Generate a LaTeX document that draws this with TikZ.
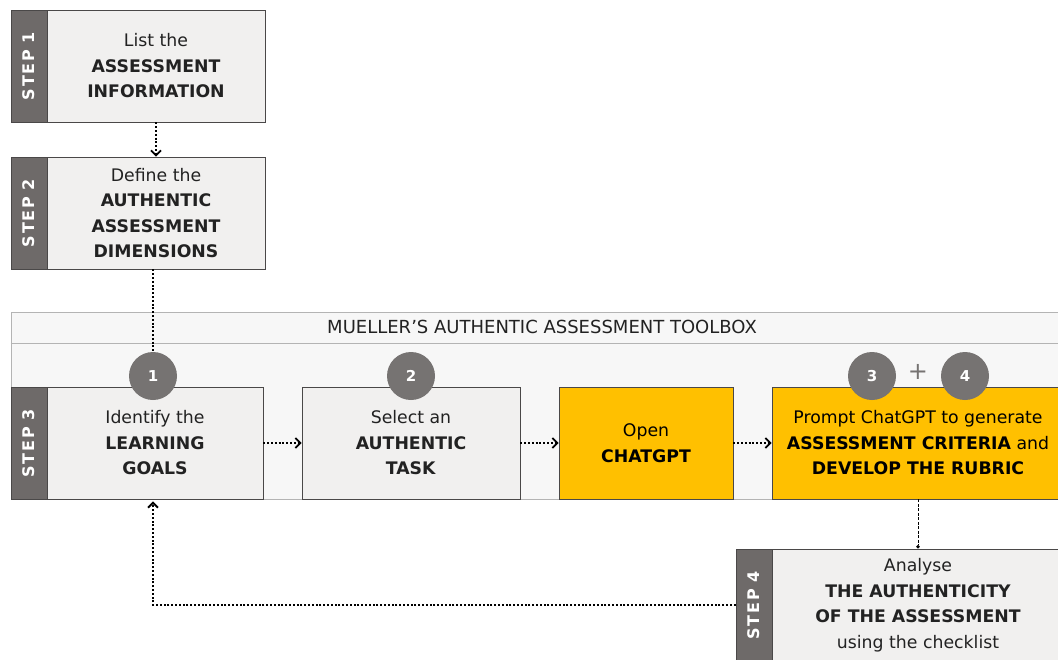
\documentclass[tikz,border=0pt]{standalone}
\usepackage{fontspec}
\setmainfont{DejaVu Sans}
\usetikzlibrary{arrows.meta,positioning}
\definecolor{stripgray}{HTML}{6E6A69}
\definecolor{boxfill}{HTML}{F1F0EF}
\definecolor{boxline}{HTML}{4A4848}
\definecolor{bandfill}{HTML}{F7F7F7}
\definecolor{bandline}{HTML}{B4B4B4}
\definecolor{gptyellow}{HTML}{FFC000}
\definecolor{numgray}{HTML}{767372}
\definecolor{inkgray}{HTML}{222222}

\tikzset{
  stepbox/.style={draw=boxline, fill=boxfill, line width=0.9pt, minimum width=218, minimum height=112,
    inner sep=0pt, align=center, text=inkgray, font=\fontsize{17.3}{25.5}\selectfont},
  gptbox/.style={fill=gptyellow, text=black},
  strip/.style={draw=boxline, fill=stripgray, line width=0.9pt, rotate=90, minimum width=112, minimum height=36,
    inner sep=0pt, text=white, font=\bfseries\fontsize{16}{16}\selectfont\addfontfeature{LetterSpace=10}},
  band/.style={draw=bandline, fill=bandfill, line width=0.9pt, minimum width=1059, minimum height=187, inner sep=0pt},
  num/.style={circle, fill=numgray, minimum size=48, inner sep=0pt, text=white, font=\bfseries\fontsize{15}{15}\selectfont},
  flow/.style={line width=1.7pt, dash pattern=on 2pt off 1.8pt, -{Straight Barb[length=5pt,width=10pt,line width=1.8pt]}},
  link/.style={line width=1.7pt, dash pattern=on 2pt off 1.8pt},
  drop/.style={line width=0.8pt, dash pattern=on 3pt off 1.5pt, -{Circle[length=3.5pt]}}
}

\begin{document}
\begin{tikzpicture}[x=1pt,y=-1pt]
\useasboundingbox (0,0) rectangle (1058,659);

\node[band] (tb) at (540.5,405.5) {};
\coordinate (hd) at (0,343);
\draw[bandline, line width=0.9pt] (tb.west |- hd) -- (tb.east |- hd);
\node[text=inkgray, font=\fontsize{18}{18}\selectfont] (title) at (542,327) {MUELLER'S AUTHENTIC ASSESSMENT TOOLBOX};

\node[stepbox] (s1) at (156,66) {List the\\\textbf{ASSESSMENT}\\\textbf{INFORMATION}};
\node[strip] (t1) at (29,66) {STEP 1};
\node[stepbox] (s2) at (156,213) {Define the\\\textbf{AUTHENTIC}\\\textbf{ASSESSMENT}\\\textbf{DIMENSIONS}};
\node[strip] (t2) at (29,213) {STEP 2};

\node[stepbox, minimum width=216] (s3) at (155,443) {Identify the\\\textbf{LEARNING}\\\textbf{GOALS}};
\node[strip] (t3) at (29,443) {STEP 3};
\node[stepbox] (task) at (411,443) {Select an\\\textbf{AUTHENTIC}\\\textbf{TASK}};
\node[stepbox, gptbox, minimum width=174] (gpt) at (646,443) {Open\\\textbf{CHATGPT}};
\node[stepbox, gptbox, minimum width=292] (rubric) at (918,443) {Prompt ChatGPT to generate\\\textbf{ASSESSMENT CRITERIA} and\\\textbf{DEVELOP THE RUBRIC}};

\node[stepbox, minimum width=292] (s4) at (918,605) {Analyse\\\textbf{THE AUTHENTICITY}\\\textbf{OF THE ASSESSMENT}\\using the checklist};
\node[strip] (t4) at (754,605) {STEP 4};

\foreach \n/\x in {1/153,2/411,3/872,4/965}
  \node[num] (c\n) at (\x,376) {\n};
\node[text=numgray, font=\fontsize{24}{24}\selectfont] (plus) at (918,372) {+};

\draw[flow] (s1) -- (s2);
\draw[link] (s2.south -| c1) -- (c1);
\draw[flow] (s3) -- (task);
\draw[flow] (task) -- (gpt);
\draw[flow] (gpt) -- (rubric);
\draw[drop] (rubric.south) -- (s4.north);
\draw[flow, shorten >=2pt] (t4.north) -| (c1 |- s3.south);
\end{tikzpicture}
\end{document}
